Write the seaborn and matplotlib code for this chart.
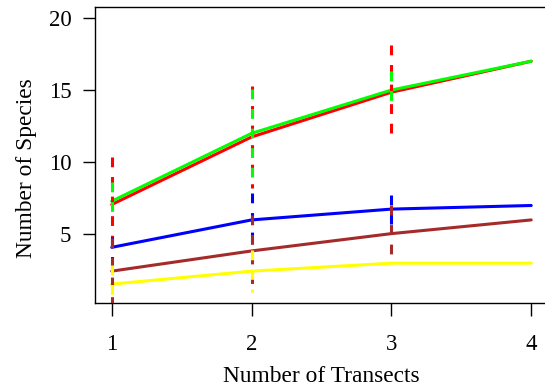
import matplotlib
matplotlib.use("Agg")
import matplotlib.pyplot as plt
import seaborn as sns
import pandas as pd
import numpy as np

transects = [1, 2, 3, 4]
series_names = ["red", "green", "blue", "brown", "yellow"]
red_mean = [7.07, 11.75, 14.85, 17.0]
red_sd = [3.3, 3.55, 3.25, 0.0]
green_mean = [7.3, 12.0, 15.0, 17.0]
green_sd = [1.3, 3.1, 1.3, 0.0]
blue_mean = [4.1, 6.0, 6.75, 7.0]
blue_sd = [0.75, 1.9, 1.0, 0.0]
brown_mean = [2.45, 3.85, 5.05, 6.0]
brown_sd = [2.3, 2.5, 2.0, 0.0]
yellow_mean = [1.55, 2.45, 3.0, 3.0]
yellow_sd = [1.3, 1.45, 0.0, 0.0]
y_ticks = [5, 10, 15, 20]

colors = {"red": "#FF0000", "green": "#00FF00", "blue": "#0000FF",
          "brown": "#A52A2A", "yellow": "#FFFF00"}
means = {"red": red_mean, "green": green_mean, "blue": blue_mean,
         "brown": brown_mean, "yellow": yellow_mean}
sds = {"red": red_sd, "green": green_sd, "blue": blue_sd,
       "brown": brown_sd, "yellow": yellow_sd}

rows = []
for s in series_names:
    for x, m, sd in zip(transects, means[s], sds[s]):
        rows.append({"series": s, "transects": x, "richness": m, "sd": sd})
df = pd.DataFrame(rows)

sns.set_theme(style="white")
plt.rcParams["font.family"] = ["Liberation Serif", "DejaVu Serif"]

fig = plt.figure(figsize=(5.45, 3.87), dpi=100)
ax = fig.add_axes([0.1743, 0.217, 0.8312, 0.765])

lw = 2.2
for s in series_names:
    sub = df[df["series"] == s]
    sns.lineplot(data=sub, x="transects", y="richness", color=colors[s],
                 lw=lw, ax=ax, legend=False, zorder=2)
    top = sub["richness"] + sub["sd"]
    bot = sub["richness"] - sub["sd"]
    mask = sub["sd"] > 0
    ax.vlines(sub["transects"][mask], top[mask], bot[mask], colors=colors[s],
              linestyles=(0, (3.2, 3.2)), lw=lw, zorder=3)

ax.set_xlim(0.88, 4.12)
ax.set_ylim(0.24, 20.76)
ax.set_xticks(transects)
ax.set_yticks(y_ticks)
ax.tick_params(axis="both", which="both", direction="out", length=9,
               width=1.0, color="black", labelsize=16.5, labelcolor="black",
               bottom=True, left=True)
ax.tick_params(axis="x", pad=13)
ax.tick_params(axis="y", pad=8)
for sp in ax.spines.values():
    sp.set_visible(True)
    sp.set_color("black")
    sp.set_linewidth(1.0)
ax.grid(False)
ax.set_xlabel("Number of Transects", fontsize=16.8, color="black")
ax.set_ylabel("Number of Species", fontsize=16.8, color="black")
ax.xaxis.set_label_coords(0.5, -0.212)
ax.yaxis.set_label_coords(-0.128, 0.455)

fig.savefig("out.png", dpi=100)
